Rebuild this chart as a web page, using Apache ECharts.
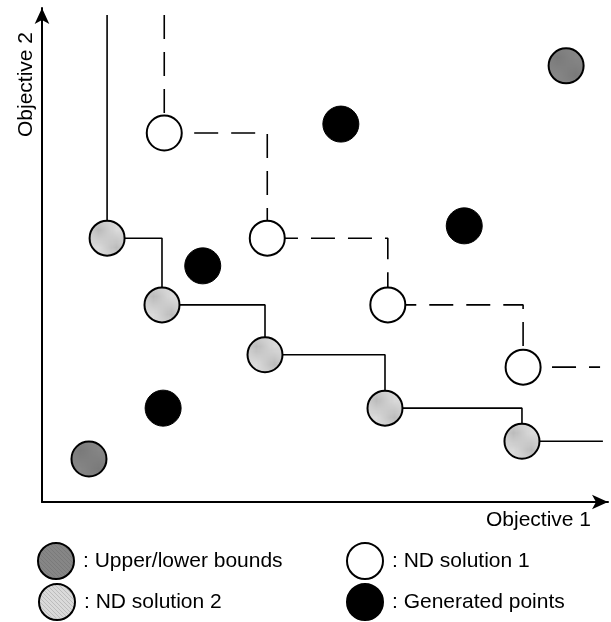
<!DOCTYPE html>
<html>
<head>
<meta charset="utf-8">
<script src="https://cdn.jsdelivr.net/npm/echarts@6/dist/echarts.min.js"></script>
<style>html,body{margin:0;padding:0;background:#fff;}#chart{width:611px;height:622px;}</style>
</head>
<body>
<div id="chart"></div>
<script>
// Data (axis units 0-100, no tick labels shown)
var boundsX = [92.6, 8.3];
var boundsY = [88.3, 8.7];
var nd2X = [11.5, 21.2, 39.4, 60.6, 84.8];
var nd2Y = [53.4, 39.9, 29.8, 19.0, 12.3];
var nd1X = [21.6, 39.8, 61.1, 85.0];
var nd1Y = [74.7, 53.4, 39.9, 27.3];
var genX = [52.8, 28.4, 74.6, 21.4];
var genY = [76.5, 47.8, 55.9, 19.0];
var lineTop = 98.6;
var nd2LineEnd = 99.1;
var nd1LineEnd = 98.6;
var seriesNames = ['Upper/lower bounds', 'ND solution 1', 'ND solution 2', 'Generated points'];

function zip(xs, ys) { return xs.map(function (x, i) { return [x, ys[i]]; }); }
function stepData(xs, ys, top, endX) {
  var d = [[xs[0], top]].concat(zip(xs, ys));
  d.push([endX, ys[ys.length - 1]]);
  return d;
}
function hatch(base, line) {
  var c = document.createElement('canvas');
  c.width = 4; c.height = 4;
  var g = c.getContext('2d');
  g.fillStyle = base; g.fillRect(0, 0, 4, 4);
  g.strokeStyle = line; g.lineWidth = 1;
  g.beginPath();
  g.moveTo(0, 0); g.lineTo(4, 4);
  g.moveTo(-2, 2); g.lineTo(2, 6);
  g.moveTo(2, -2); g.lineTo(6, 2);
  g.stroke();
  return { image: c, repeat: 'repeat' };
}

var chart = echarts.init(document.getElementById('chart'), null, { renderer: 'canvas' });
var font = 'Liberation Sans, Arial, sans-serif';
var fs = 21;
var axisCommon = {
  type: 'value', min: 0, max: 100,
  splitLine: { show: false }, axisTick: { show: false }, axisLabel: { show: false },
  axisLine: { show: true, lineStyle: { color: '#000', width: 2 }, symbol: ['none', 'arrow'], symbolSize: [11, 16] }
};
var circleSize = 35;
function legendAt(name, left, top) {
  return {
    data: [name], orient: 'horizontal', left: left, top: top,
    itemWidth: 38, itemHeight: 36, selectedMode: false,
    formatter: function (n) { return ': ' + n; },
    textStyle: { color: '#000', fontSize: fs, fontFamily: font, padding: [0, 0, 0, 3] }
  };
}
chart.setOption({
  animation: false,
  backgroundColor: '#fff',
  grid: { left: 42, top: 8, right: 3, bottom: 120, containLabel: false },
  xAxis: Object.assign({}, axisCommon, {
    name: 'Objective 1', nameLocation: 'end', nameGap: -17,
    nameTextStyle: { color: '#000', fontSize: fs, fontFamily: font, align: 'right', verticalAlign: 'top', padding: [8, 0, 0, 0] }
  }),
  yAxis: Object.assign({}, axisCommon, {
    name: 'Objective 2', nameLocation: 'end', nameGap: -24, nameRotate: 90,
    nameTextStyle: { color: '#000', fontSize: fs, fontFamily: font, align: 'right', verticalAlign: 'bottom', padding: [0, 0, 5, 0] }
  }),
  legend: [
    legendAt(seriesNames[0], 32, 537),
    legendAt(seriesNames[2], 33, 578),
    legendAt(seriesNames[1], 341, 537),
    legendAt(seriesNames[3], 341, 578)
  ],
  series: [
    {
      type: 'line', name: 'ND2 front', data: stepData(nd2X, nd2Y, lineTop, nd2LineEnd), step: 'end',
      showSymbol: false, symbol: 'none', lineStyle: { color: '#000', width: 1.6, type: 'solid' }, z: 1, silent: true
    },
    {
      type: 'line', name: 'ND1 front', data: stepData(nd1X, nd1Y, lineTop, nd1LineEnd), step: 'end',
      showSymbol: false, symbol: 'none', lineStyle: { color: '#000', width: 1.6, type: [24, 13], dashOffset: 0 }, z: 1, silent: true
    },
    {
      type: 'scatter', name: seriesNames[0], data: zip(boundsX, boundsY), symbolSize: circleSize, z: 3,
      itemStyle: { color: hatch('#868686', '#7a7a7a'), borderColor: '#000', borderWidth: 2, opacity: 1 }
    },
    {
      type: 'scatter', name: seriesNames[1], data: zip(nd1X, nd1Y), symbolSize: circleSize, z: 3,
      itemStyle: { color: '#fff', borderColor: '#000', borderWidth: 2, opacity: 1 }
    },
    {
      type: 'scatter', name: seriesNames[2], data: zip(nd2X, nd2Y), symbolSize: circleSize, z: 3,
      itemStyle: { color: hatch('#dadada', '#bcbcbc'), borderColor: '#000', borderWidth: 2, opacity: 1 }
    },
    {
      type: 'scatter', name: seriesNames[3], data: zip(genX, genY), symbolSize: circleSize + 1, z: 3,
      itemStyle: { color: '#000', borderColor: '#000', borderWidth: 1, opacity: 1 }
    }
  ]
});
</script>
</body>
</html>
